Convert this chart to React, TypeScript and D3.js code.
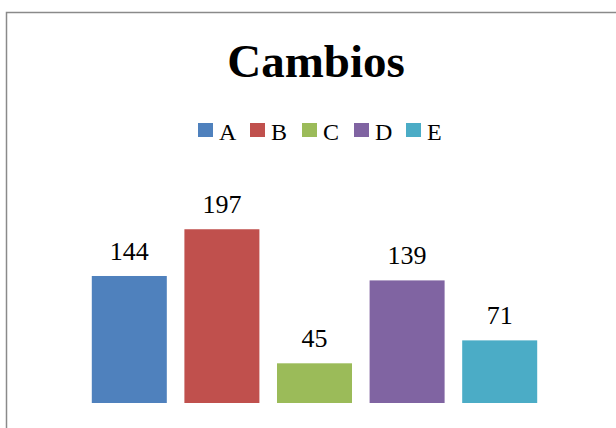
import React from "react";
import * as d3 from "d3";

const categories = ["A", "B", "C", "D", "E"];
const values = [144, 197, 45, 139, 71];
const colors = ["#4f81bd", "#c0504d", "#9bbb59", "#8064a2", "#4bacc6"];
const titleText = "Cambios";

export default function App() {
  const W = 616;
  const H = 428;
  const x = d3
    .scaleBand<string>()
    .domain(categories)
    .range([83, 546])
    .paddingInner(0.19)
    .paddingOuter(0.095);
  const y = d3.scaleLinear().domain([0, 250]).range([403, 182.5]);

  const legendX = d3.scaleBand<string>().domain(categories).range([198, 458]);

  return (
    <svg
      width={W}
      height={H}
      style={{ position: "absolute", left: 0, top: 0, background: "#fff" }}
    >
      <rect x={0} y={0} width={W} height={H} fill="#fff" />
      <path d={`M6.5,${H + 5} L6.5,12.5 L${W + 5},12.5`} fill="none" stroke="#8a8a8a" strokeWidth={1.5} />
      <text
        x={316}
        y={77}
        textAnchor="middle"
        fontFamily="Liberation Serif, Times New Roman, serif"
        fontWeight="bold"
        fontSize={47}
        fill="#000"
      >
        {titleText}
      </text>
      {categories.map((c, i) => (
        <g key={"lg" + c}>
          <rect x={legendX(c)!} y={123} width={15} height={14} fill={colors[i]} />
          <text
            x={legendX(c)! + 21}
            y={139.5}
            fontFamily="Liberation Serif, Times New Roman, serif"
            fontSize={24}
            fill="#000"
          >
            {c}
          </text>
        </g>
      ))}
      {categories.map((c, i) => (
        <g key={"b" + c}>
          <rect
            x={x(c)!}
            y={y(values[i])}
            width={x.bandwidth()}
            height={y(0) - y(values[i])}
            fill={colors[i]}
          />
          <text
            x={x(c)! + x.bandwidth() / 2}
            y={y(values[i]) - 16}
            textAnchor="middle"
            fontFamily="Liberation Serif, Times New Roman, serif"
            fontSize={26}
            fill="#000"
          >
            {values[i]}
          </text>
        </g>
      ))}
    </svg>
  );
}
